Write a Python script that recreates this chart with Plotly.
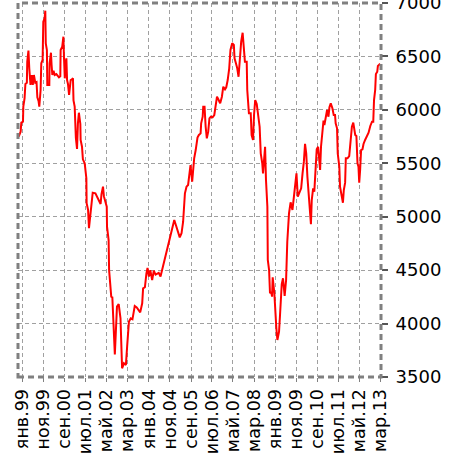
import plotly.graph_objects as go

dates = [
    "1998-11-04", "1998-12-02", "1998-12-12", "1999-01-05", "1999-01-10", "1999-01-28",
    "1999-02-09", "1999-03-02", "1999-03-08", "1999-03-25", "1999-04-06", "1999-04-24",
    "1999-05-13", "1999-05-27", "1999-06-12", "1999-07-02", "1999-07-20", "1999-08-01",
    "1999-08-19", "1999-08-29", "1999-09-17", "1999-09-27", "1999-10-16", "1999-10-26",
    "1999-11-14", "1999-11-24", "1999-12-01", "1999-12-17", "1999-12-23", "2000-01-21",
    "2000-01-25", "2000-02-14", "2000-02-23", "2000-03-05", "2000-03-22", "2000-04-08",
    "2000-05-02", "2000-06-09", "2000-06-28", "2000-07-03", "2000-07-26", "2000-08-12",
    "2000-08-20", "2000-09-01", "2000-09-14", "2000-09-24", "2000-10-04", "2000-10-17",
    "2000-11-02", "2000-11-12", "2000-11-25", "2000-12-14", "2000-12-28", "2001-01-05",
    "2001-01-22", "2001-02-08", "2001-02-25", "2001-03-10", "2001-03-24", "2001-04-14",
    "2001-04-18", "2001-05-08", "2001-05-21", "2001-06-16", "2001-07-10", "2001-07-14",
    "2001-08-04", "2001-08-17", "2001-09-02", "2001-09-21", "2001-10-10", "2001-11-18",
    "2001-12-17", "2002-02-01", "2002-02-14", "2002-03-08", "2002-03-21", "2002-04-12",
    "2002-05-01", "2002-05-05", "2002-05-28", "2002-06-04", "2002-06-22", "2002-07-05",
    "2002-07-21", "2002-08-06", "2002-08-17", "2002-08-26", "2002-09-26", "2002-10-21",
    "2002-11-16", "2002-12-09", "2003-01-04", "2003-02-02", "2003-02-20", "2003-03-18",
    "2003-04-13", "2003-05-08", "2003-06-10", "2003-07-09", "2003-08-28", "2003-09-26",
    "2003-10-09", "2003-11-04", "2003-11-26", "2003-12-12", "2004-01-01", "2004-01-21",
    "2004-02-17", "2004-03-12", "2004-04-06", "2004-04-28", "2004-05-22", "2004-06-17",
    "2004-07-10", "2004-08-05", "2004-08-28", "2004-09-21", "2004-10-20", "2004-11-14",
    "2004-12-09", "2005-01-02", "2005-01-25", "2005-02-20", "2005-03-22", "2005-04-17",
    "2005-05-10", "2005-06-05", "2005-06-28", "2005-07-21", "2005-08-06", "2005-08-25",
    "2005-09-18", "2005-10-04", "2005-10-17", "2005-11-08", "2005-12-04", "2005-12-24",
    "2006-01-18", "2006-01-26", "2006-02-17", "2006-02-25", "2006-03-16", "2006-04-01",
    "2006-04-18", "2006-05-08", "2006-05-26", "2006-06-15", "2006-07-10", "2006-08-04",
    "2006-08-22", "2006-09-12", "2006-10-01", "2006-10-28", "2006-11-22", "2006-12-12",
    "2007-01-06", "2007-01-24", "2007-02-14", "2007-03-08", "2007-03-26", "2007-04-20",
    "2007-05-14", "2007-05-24", "2007-06-13", "2007-07-02", "2007-07-21", "2007-08-10",
    "2007-08-28", "2007-09-18", "2007-10-04", "2007-10-21", "2007-11-16", "2007-11-24",
    "2007-12-18", "2008-01-13", "2008-01-26", "2008-02-15", "2008-03-01", "2008-03-18",
    "2008-04-09", "2008-05-02", "2008-05-21", "2008-06-06", "2008-06-28", "2008-07-09",
    "2008-07-22", "2008-08-08", "2008-08-21", "2008-09-10", "2008-09-16", "2008-10-05",
    "2008-10-18", "2008-11-04", "2008-11-17", "2008-11-26", "2008-12-20", "2009-01-05",
    "2009-01-18", "2009-02-02", "2009-02-26", "2009-03-12", "2009-03-25", "2009-04-06",
    "2009-04-24", "2009-05-18", "2009-06-08", "2009-06-25", "2009-07-20", "2009-08-12",
    "2009-09-08", "2009-09-26", "2009-10-16", "2009-11-05", "2009-11-24", "2009-12-17",
    "2010-01-12", "2010-02-01", "2010-02-20", "2010-03-09", "2010-03-26", "2010-04-12",
    "2010-04-21", "2010-05-10", "2010-06-02", "2010-06-14", "2010-07-04", "2010-07-21",
    "2010-08-06", "2010-08-25", "2010-09-14", "2010-09-28", "2010-10-13", "2010-10-26",
    "2010-11-16", "2010-12-01", "2010-12-14", "2011-01-05", "2011-01-22", "2011-02-11",
    "2011-02-25", "2011-03-16", "2011-04-09", "2011-04-28", "2011-05-17", "2011-05-26",
    "2011-06-15", "2011-06-25", "2011-07-18", "2011-07-28", "2011-08-17", "2011-09-08",
    "2011-09-21", "2011-10-10", "2011-10-20", "2011-11-13", "2011-12-08", "2011-12-21",
    "2012-01-06", "2012-01-16", "2012-02-05", "2012-02-18", "2012-03-04", "2012-03-21",
    "2012-04-06", "2012-04-20", "2012-05-01", "2012-05-14", "2012-05-28", "2012-06-17",
    "2012-07-02", "2012-07-25", "2012-08-20", "2012-09-13", "2012-10-08", "2012-11-02",
    "2012-11-20", "2012-12-01", "2012-12-18", "2012-12-28", "2013-01-17", "2013-01-26",
    "2013-02-20", "2013-03-01",
]

values = [
    5749, 5796, 5880, 5889, 6030, 6108,
    6242, 6254, 6451, 6554, 6389, 6233,
    6326, 6233, 6326, 6254, 6260, 6117,
    6080, 6030, 6186, 6436, 6467, 6825,
    6857, 6928, 6623, 6560, 6233, 6233,
    6436, 6535, 6420, 6326, 6366, 6326,
    6335, 6305, 6314, 6560, 6591, 6685,
    6498, 6295, 6442, 6482, 6279, 6242,
    6139, 6186, 6279, 6286, 6295, 6089,
    6030, 5740, 5634, 5874, 5973, 5868,
    5718, 5655, 5537, 5500, 5360, 5126,
    5063, 4892, 5000, 5156, 5225, 5219,
    5182, 5119, 5212, 5281, 5190, 5126,
    5094, 4907, 4782, 4500, 4345, 4252,
    4246, 3956, 3850, 3710, 4158, 4183,
    4049, 3581, 3628, 3612, 3784, 4018,
    4049, 4040, 4164, 4150, 4105, 4190,
    4330, 4340, 4470, 4520, 4440, 4500,
    4408, 4495, 4458, 4470, 4475, 4440,
    4501, 4595, 4633, 4705, 4782, 4845,
    4907, 4969, 4922, 4876, 4807, 4845,
    4953, 5219, 5281, 5297, 5406, 5484,
    5328, 5468, 5547, 5624, 5740, 5765,
    5780, 5874, 5936, 6030, 6030, 5842,
    5734, 5796, 5921, 5936, 5930, 5952,
    6061, 6123, 6099, 6061, 6123, 6217,
    6192, 6211, 6279, 6389, 6560, 6623,
    6607, 6482, 6436, 6389, 6310, 6529,
    6638, 6722, 6591, 6451, 6451, 6186,
    5968, 5968, 5765, 5718, 5952, 6092,
    6055, 5936, 5842, 5593, 5500, 5406,
    5531, 5655, 5344, 5094, 4595, 4501,
    4283, 4298, 4252, 4433, 4283, 4049,
    3956, 3846, 3924, 4080, 4200, 4370,
    4424, 4260, 4408, 4766, 5031, 5135,
    5063, 5172, 5328, 5406, 5188, 5219,
    5266, 5406, 5515, 5681, 5593, 5375,
    5281, 5094, 4930, 5156, 5266, 5234,
    5406, 5631, 5655, 5531, 5437, 5655,
    5812, 5899, 5858, 5952, 5999, 5936,
    6024, 6061, 6015, 5952, 5952, 5874,
    5827, 5593, 5468, 5281, 5188, 5131,
    5250, 5319, 5547, 5547, 5568, 5671,
    5749, 5842, 5880, 5827, 5765, 5755,
    5500, 5468, 5319, 5437, 5624, 5631,
    5681, 5718, 5755, 5786, 5849, 5889,
    5889, 6092, 6186, 6336, 6357, 6411,
    6426, 6430,
]

tick_dates = [
    "1999-01-01", "1999-11-01", "2000-09-01", "2001-07-01", "2002-05-01", "2003-03-01",
    "2004-01-01", "2004-11-01", "2005-09-01", "2006-07-01", "2007-05-01", "2008-03-01",
    "2009-01-01", "2009-11-01", "2010-09-01", "2011-07-01", "2012-05-01", "2013-03-01",
]
tick_labels = [
    "янв.99", "ноя.99", "сен.00", "июл.01", "май.02", "мар.03",
    "янв.04", "ноя.04", "сен.05", "июл.06", "май.07", "мар.08",
    "янв.09", "ноя.09", "сен.10", "июл.11", "май.12", "мар.13",
]
y_ticks = [3500, 4000, 4500, 5000, 5500, 6000, 6500, 7000]

fig = go.Figure()
fig.add_trace(go.Scatter(
    x=dates, y=values, mode="lines",
    line=dict(color="#ff0000", width=2),
    showlegend=False,
))

FONT = "DejaVu Sans"
fig.update_layout(
    width=460, height=461,
    margin=dict(l=18, r=79, t=3, b=84, autoexpand=False),
    paper_bgcolor="white", plot_bgcolor="white",
    font=dict(family=FONT, size=18, color="black"),
    xaxis=dict(
        type="date",
        range=["1998-10-25", "2013-03-12"],
        tickmode="array", tickvals=tick_dates, ticktext=tick_labels,
        tickangle=-90,
        showgrid=True, gridcolor="#a0a0a0", gridwidth=1, griddash="4px,3px",
        ticks="outside", ticklen=4, tickcolor="#808080",
        showline=False, zeroline=False,
        tickfont=dict(family=FONT, size=17.5, color="black"),
        ticklabeloverflow="allow", automargin=False,
    ),
    yaxis=dict(
        side="right",
        range=[3500, 7000],
        tickmode="array", tickvals=y_ticks,
        showgrid=True, gridcolor="#a0a0a0", gridwidth=1, griddash="4px,3px",
        ticks="outside", ticklen=6, tickwidth=2, tickcolor="#555555",
        showline=False, zeroline=False,
        tickfont=dict(family=FONT, size=18, color="black"),
        ticklabeloverflow="allow", automargin=False,
        ticklabelstandoff=4,
    ),
    shapes=[
        dict(type="rect", xref="paper", yref="paper", x0=0, x1=1, y0=0, y1=1,
             line=dict(color="#808080", width=3, dash="6px,4px"), layer="above"),
    ],
)

fig.write_html("out.html", config={"displayModeBar": False},
               post_script="document.body.style.margin='0';")
